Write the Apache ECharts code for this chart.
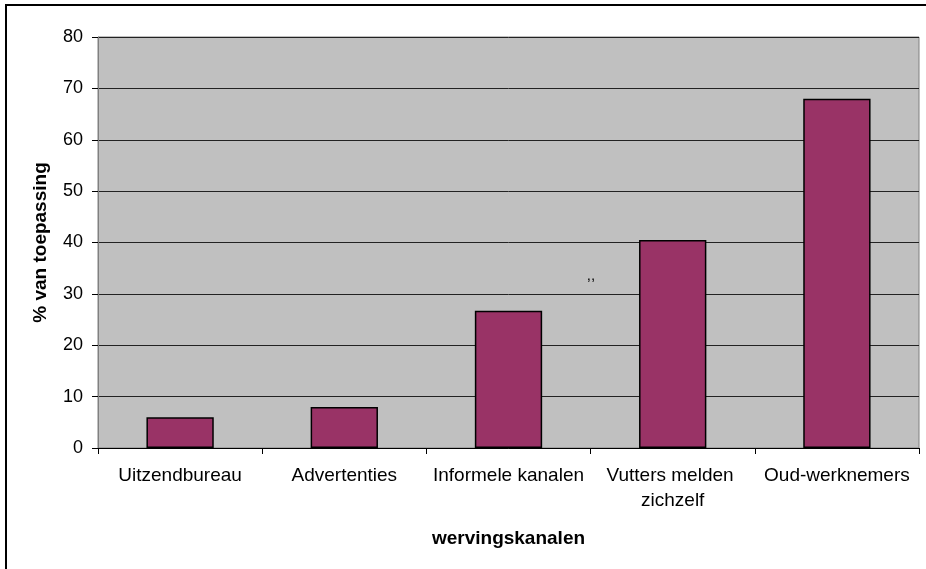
<!DOCTYPE html>
<html>
<head>
<meta charset="utf-8">
<script src="https://cdn.jsdelivr.net/npm/echarts@6/dist/echarts.min.js"></script>
<style>
  html, body { margin: 0; padding: 0; background: #fff; }
  #chart { width: 926px; height: 569px; }
</style>
</head>
<body>
<div id="chart"></div>
<script>
// wervingskanalen
const categories = ['Uitzendbureau', 'Advertenties', 'Informele kanalen', 'Vutters melden zichzelf', 'Oud-werknemers']
const values = [6, 8, 26.7, 40.5, 68]
const yTicks = [0, 10, 20, 30, 40, 50, 60, 70, 80]

const font = 'Liberation Sans, Arial, sans-serif'
const chart = echarts.init(document.getElementById('chart'))

chart.setOption({
  animation: false,
  textStyle: { fontFamily: font },
  graphic: [
    // kader om de grafiek
    { type: 'rect', shape: { x: 6, y: 5, width: 1000, height: 1000 }, style: { fill: 'none', stroke: '#000', lineWidth: 2 }, z: 100 },
    { type: 'text', x: 591, y: 276, style: { text: ',,', font: '15px ' + font, fill: '#000', align: 'center', verticalAlign: 'middle' }, z: 100 }
  ],
  grid: {
    left: 98, top: 37, right: 7, bottom: 121,
    show: true, backgroundColor: '#c0c0c0', borderColor: '#808080', borderWidth: 1
  },
  xAxis: {
    type: 'category',
    data: categories,
    name: 'wervingskanalen',
    nameLocation: 'middle',
    nameGap: 81,
    nameTextStyle: { fontSize: 19, fontWeight: 'bold', color: '#000' },
    axisLine: { lineStyle: { color: '#000', width: 1 } },
    axisTick: { show: true, length: 6, lineStyle: { color: '#000' } },
    axisLabel: {
      interval: 0, fontSize: 19, color: '#000', margin: 15,
      width: 160, overflow: 'break', lineHeight: 25
    }
  },
  yAxis: {
    type: 'value',
    min: yTicks[0],
    max: yTicks[yTicks.length - 1],
    interval: 10,
    name: '% van toepassing',
    nameLocation: 'middle',
    nameGap: 48,
    nameTextStyle: { fontSize: 19, fontWeight: 'bold', color: '#000' },
    axisLine: { show: true, lineStyle: { color: '#808080', width: 1 } },
    axisTick: { show: true, length: 6, lineStyle: { color: '#000' } },
    axisLabel: { fontSize: 18, color: '#000', margin: 15 },
    splitLine: { show: true, lineStyle: { color: '#222', width: 1 } }
  },
  series: [{
    type: 'bar',
    data: values,
    barCategoryGap: '59%',
    itemStyle: { color: '#993366', borderColor: '#000', borderWidth: 1.5 }
  }]
})
</script>
</body>
</html>
